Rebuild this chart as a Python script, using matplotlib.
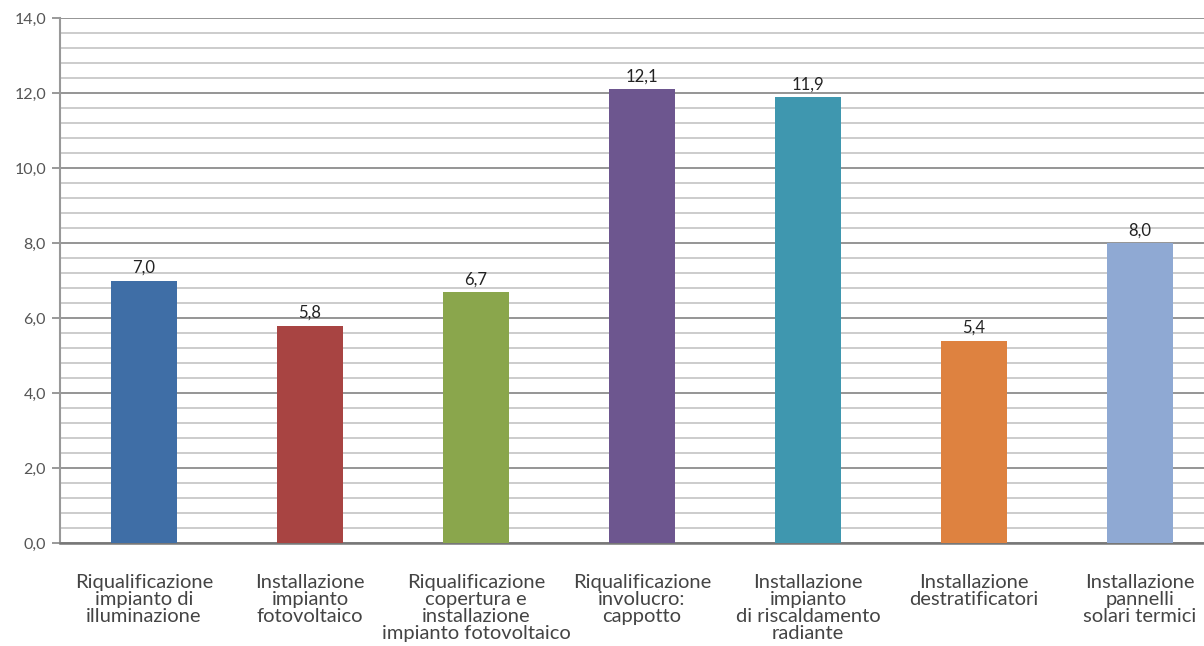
import matplotlib
matplotlib.use("Agg")
import matplotlib.pyplot as plt
from matplotlib.ticker import MultipleLocator, FuncFormatter

categories = [
    "Riqualificazione\nimpianto di\nilluminazione",
    "Installazione\nimpianto\nfotovoltaico",
    "Riqualificazione\ncopertura e\ninstallazione\nimpianto fotovoltaico",
    "Riqualificazione\ninvolucro:\ncappotto",
    "Installazione\nimpianto\ndi riscaldamento\nradiante",
    "Installazione\ndestratificatori",
    "Installazione\npannelli\nsolari termici",
]
values = [7.0, 5.8, 6.7, 12.1, 11.9, 5.4, 8.0]
colors = ["#3F6EA6", "#A84442", "#8AA64C", "#6D568F", "#3F97AF", "#DE8240", "#8FA9D3"]

plt.rcParams["font.family"] = ["Lato", "DejaVu Sans"]


def comma(v, _pos=None):
    return f"{v:.1f}".replace(".", ",")


fig = plt.figure(figsize=(12.04, 6.46), dpi=100)
ax = fig.add_axes([0.0498, 0.1594, 0.9502, 0.8126])

x = list(range(len(values)))
bars = ax.bar(x, values, width=0.4, color=colors, zorder=3)

for b, v in zip(bars, values):
    ax.text(b.get_x() + b.get_width() / 2, v + 0.12, comma(v),
            ha="center", va="bottom", fontsize=12, color="#222222", zorder=4)

ax.set_ylim(0, 14)
ax.set_xlim(-0.506, 6.386)
ax.yaxis.set_major_locator(MultipleLocator(2))
ax.yaxis.set_minor_locator(MultipleLocator(0.4))
ax.yaxis.set_major_formatter(FuncFormatter(comma))
ax.grid(axis="y", which="major", color="#8c8c8c", linewidth=1.3, zorder=0)
ax.grid(axis="y", which="minor", color="#c8c8c8", linewidth=1.3, zorder=0)

ax.set_xticks(x)
ax.set_xticklabels(categories, fontsize=14.5, color="#444444", linespacing=1.02)
ax.tick_params(axis="x", length=0, pad=22)
ax.tick_params(axis="y", which="major", length=6, width=1.2, color="#888888",
               labelsize=11.5, labelcolor="#555555", pad=4)
ax.tick_params(axis="y", which="minor", length=0)

for side in ("top", "right"):
    ax.spines[side].set_visible(False)
ax.spines["left"].set_color("#999999")
ax.spines["left"].set_linewidth(1.5)
ax.spines["bottom"].set_color("#777777")
ax.spines["bottom"].set_linewidth(1.8)

fig.savefig("out.png", dpi=100)
